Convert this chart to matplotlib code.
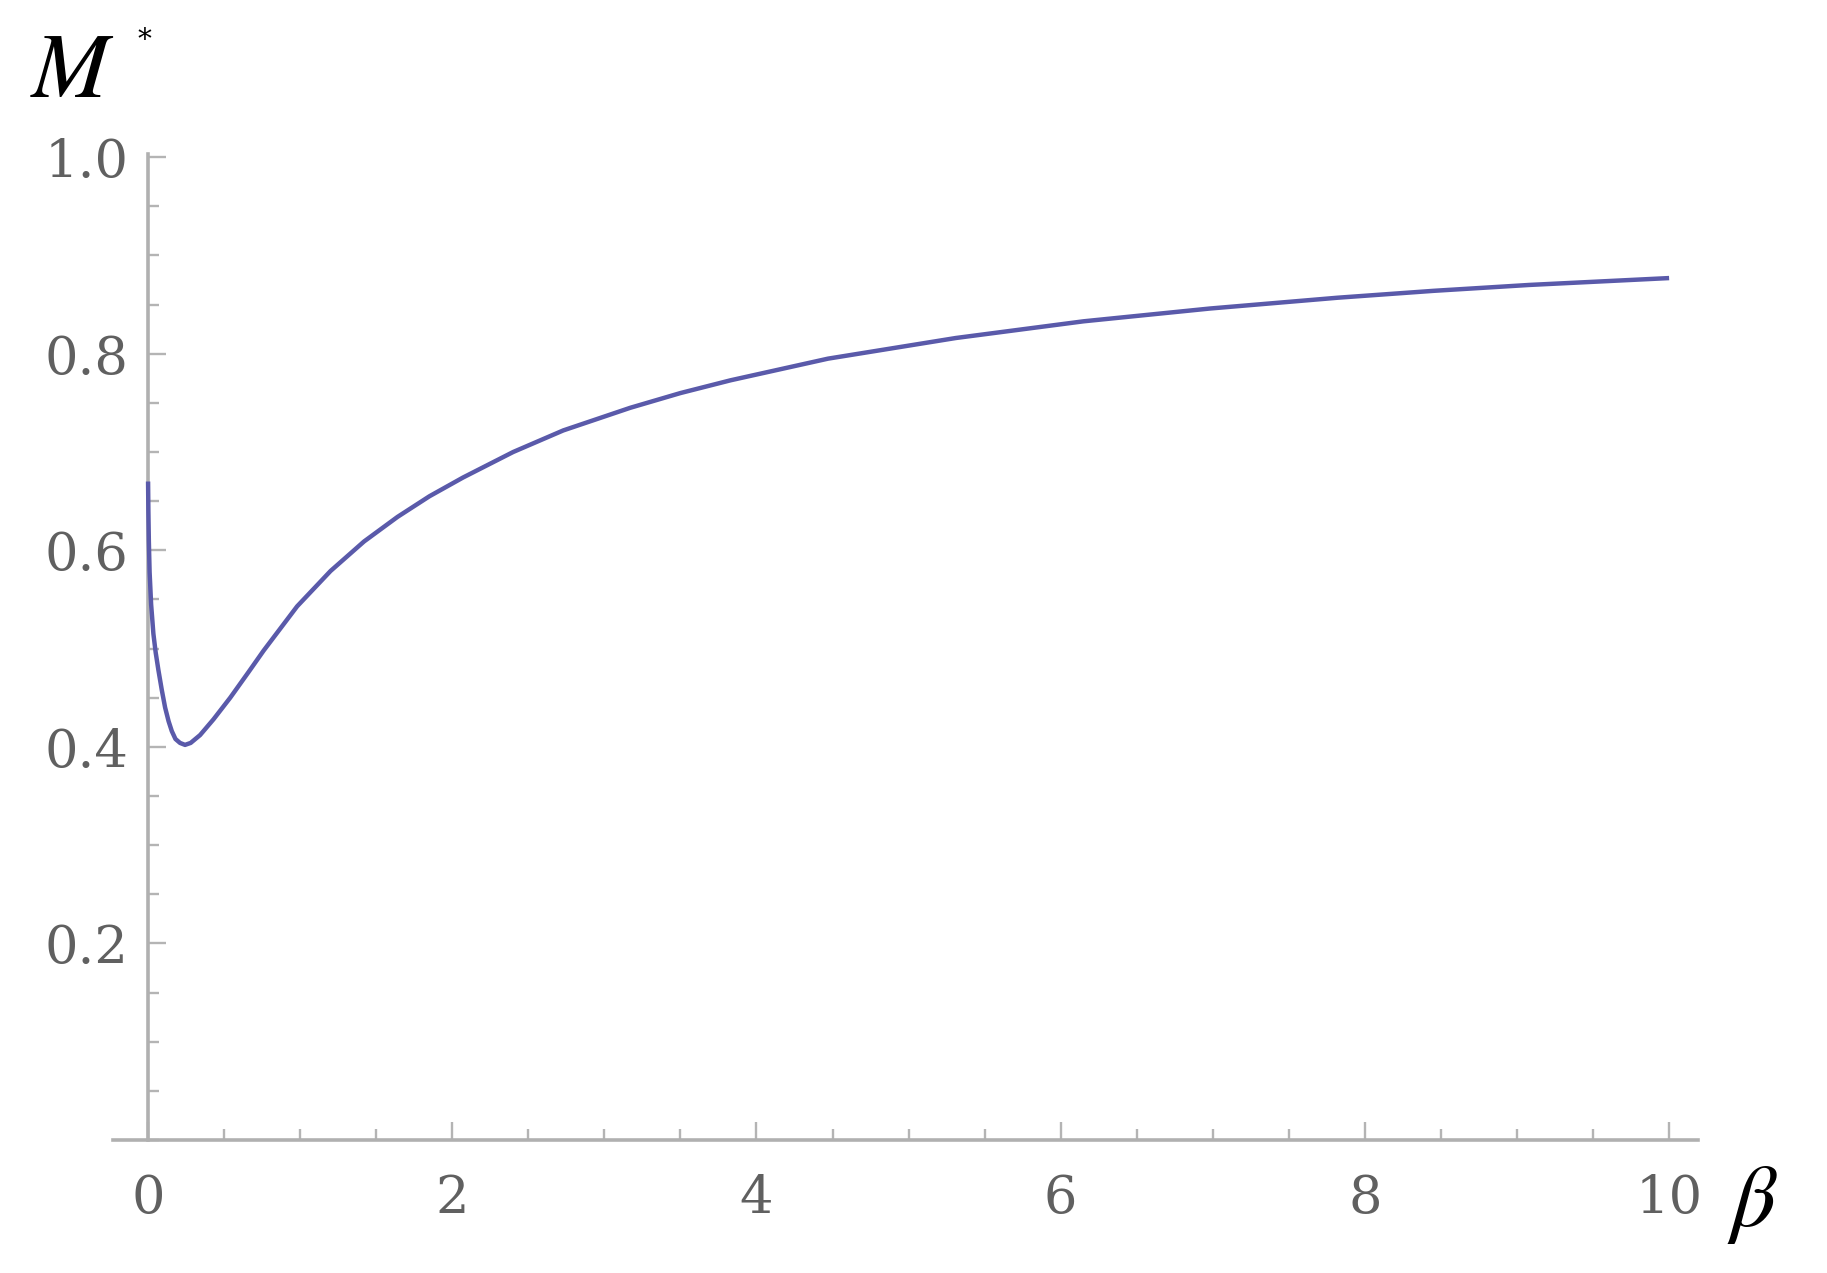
import numpy as np
import matplotlib.pyplot as plt
from matplotlib.ticker import MultipleLocator, FixedLocator

plt.rcParams['mathtext.fontset'] = 'stix'

# values
beta = [0, 0.002, 0.005, 0.01, 0.02, 0.035, 0.05, 0.068, 0.09, 0.112, 0.135, 0.156,
        0.18, 0.21, 0.243, 0.28, 0.342, 0.43, 0.54, 0.66, 0.76, 0.98, 1.2, 1.42,
        1.64, 1.85, 2.07, 2.4, 2.73, 3.17, 3.5, 3.83, 4.47, 5.31, 6.15, 6.98,
        7.82, 8.45, 9.08, 10.0]
m_star = [0.670, 0.640, 0.610, 0.578, 0.545, 0.515, 0.496, 0.478, 0.458, 0.440,
          0.426, 0.416, 0.408, 0.404, 0.402, 0.404, 0.412, 0.428, 0.450, 0.476,
          0.498, 0.543, 0.579, 0.609, 0.634, 0.655, 0.674, 0.700, 0.722, 0.745,
          0.760, 0.773, 0.795, 0.816, 0.833, 0.846, 0.857, 0.864, 0.870, 0.877]

x_ticks = [0, 2, 4, 6, 8, 10]
y_ticks = [0.2, 0.4, 0.6, 0.8, 1.0]
y_ticklabels = ['0.2', '0.4', '0.6', '0.8', '1.0']

fig = plt.figure(figsize=(18.27, 12.73), dpi=100)
ax = fig.add_axes([0.0619, 0.1045, 0.8675, 0.7748])

ax.plot(beta, m_star, color='#5a5aaa', lw=3.2, zorder=3,
        solid_joinstyle='round', solid_capstyle='butt')

ax.set_xlim(-0.23, 10.19)
ax.set_ylim(0, 1.0036)

for s in ['top', 'right']:
    ax.spines[s].set_visible(False)
ax.spines['left'].set_position(('data', 0))
ax.spines['bottom'].set_position(('data', 0))
for s in ['left', 'bottom']:
    ax.spines[s].set_color('#b0b0b0')
    ax.spines[s].set_linewidth(2.6)

ax.xaxis.set_major_locator(FixedLocator(x_ticks))
ax.xaxis.set_minor_locator(MultipleLocator(0.5))
ax.yaxis.set_major_locator(FixedLocator(y_ticks))
ax.yaxis.set_minor_locator(MultipleLocator(0.05))
ax.set_yticklabels(y_ticklabels)

ax.tick_params(which='both', direction='in', color='#b4b4b4', width=1.7)
ax.tick_params(which='major', length=13)
ax.tick_params(which='minor', length=8)
ax.tick_params(axis='x', which='major', pad=24, labelsize=38, labelcolor='#606060')
ax.tick_params(axis='y', which='major', pad=14, labelsize=38, labelcolor='#606060')
for lab in ax.get_xticklabels() + ax.get_yticklabels():
    lab.set_family('DejaVu Serif')

fig.text(0.0165, 0.924, r'$M$', fontsize=67, color='black')
fig.text(0.0755, 0.962, '*', fontsize=20, color='black', family='DejaVu Serif')
fig.text(0.945, 0.037, r'$\beta$', fontsize=64, color='black')

fig.savefig('out.png', dpi=100, facecolor='white')
